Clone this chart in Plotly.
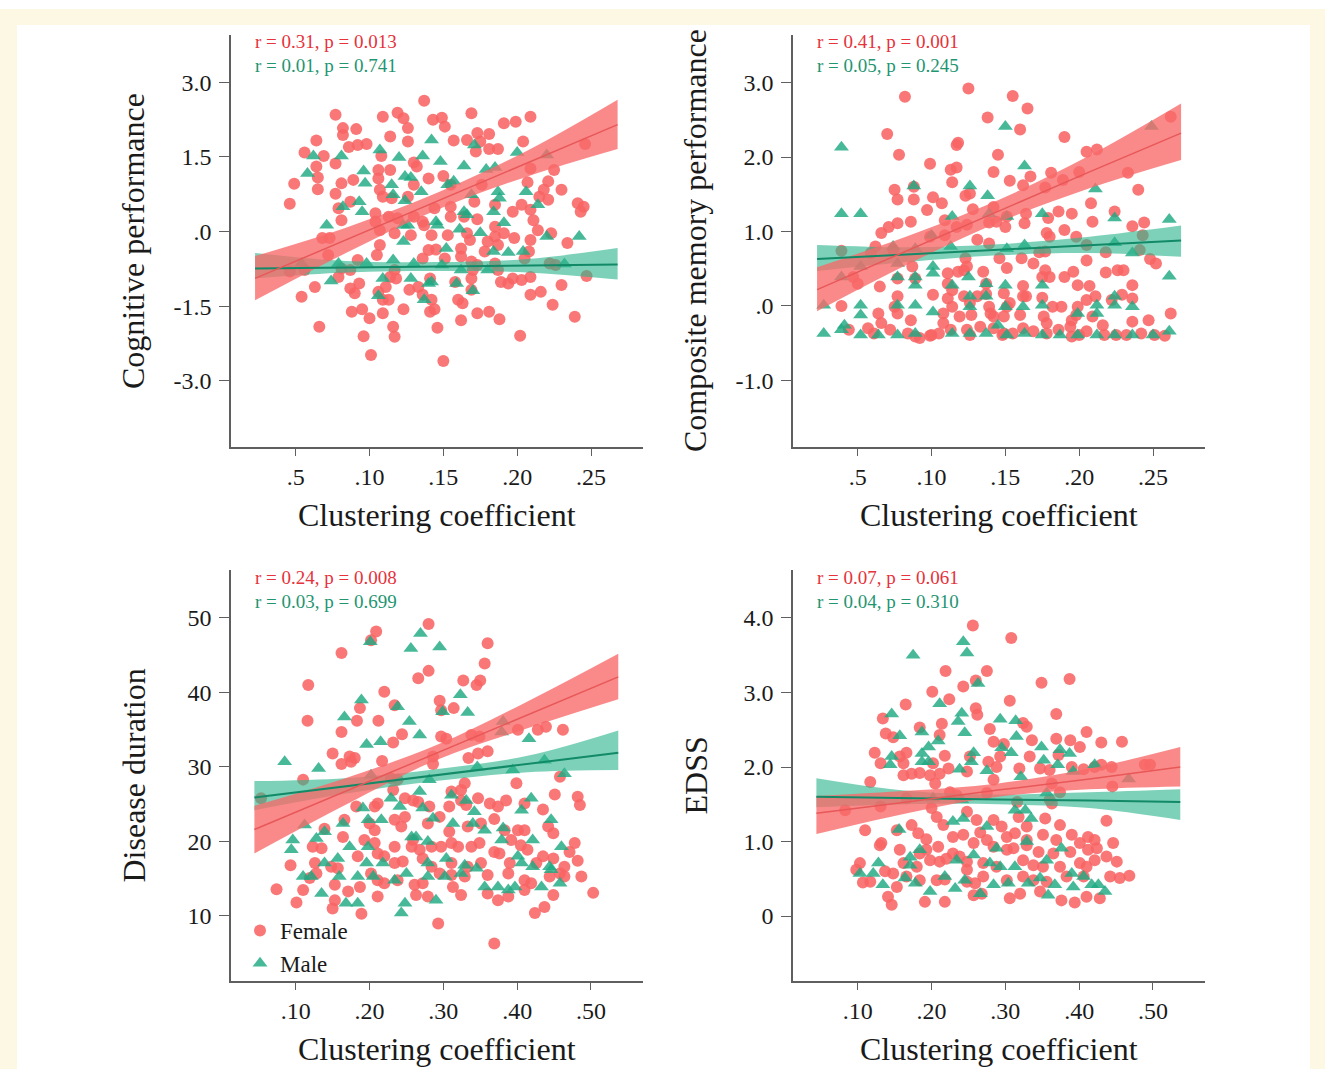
import plotly.graph_objects as go
from plotly.subplots import make_subplots

# ---- panel 1: cognitive performance vs clustering coefficient ----
p1_female_x = [
    0.137, 0.077, 0.109, 0.119, 0.123, 0.143, 0.149, 0.151, 0.169, 0.209,
    0.199, 0.191, 0.173, 0.181, 0.126, 0.082, 0.091, 0.082, 0.064, 0.114,
    0.126, 0.157, 0.166, 0.175, 0.181, 0.187, 0.086, 0.092, 0.098, 0.056,
    0.069, 0.077, 0.108, 0.130, 0.132, 0.204, 0.172, 0.064, 0.065, 0.049,
    0.065, 0.081, 0.089, 0.106, 0.114, 0.106, 0.140, 0.150, 0.130, 0.209,
    0.225, 0.221, 0.207, 0.246, 0.046, 0.077, 0.087, 0.107, 0.109, 0.115,
    0.126, 0.155, 0.176, 0.218, 0.230, 0.215, 0.221, 0.171, 0.185, 0.197,
    0.203, 0.209, 0.241, 0.245, 0.243, 0.079, 0.081, 0.104, 0.104, 0.113,
    0.119, 0.130, 0.136, 0.137, 0.144, 0.155, 0.155, 0.164, 0.173, 0.185,
    0.191, 0.198, 0.211, 0.214, 0.223, 0.209, 0.068, 0.073, 0.107, 0.117,
    0.128, 0.142, 0.153, 0.166, 0.168, 0.180, 0.185, 0.187, 0.234, 0.107,
    0.140, 0.145, 0.162, 0.178, 0.208, 0.205, 0.072, 0.092, 0.105, 0.136,
    0.151, 0.162, 0.169, 0.173, 0.185, 0.187, 0.222, 0.226, 0.046, 0.056,
    0.081, 0.087, 0.079, 0.117, 0.114, 0.118, 0.141, 0.170, 0.169, 0.189,
    0.194, 0.197, 0.203, 0.209, 0.247, 0.063, 0.054, 0.093, 0.087, 0.090,
    0.111, 0.106, 0.127, 0.133, 0.158, 0.169, 0.136, 0.160, 0.163, 0.142,
    0.109, 0.113, 0.209, 0.216, 0.230, 0.224, 0.088, 0.095, 0.100, 0.109,
    0.123, 0.141, 0.144, 0.162, 0.173, 0.181, 0.188, 0.239, 0.066, 0.096,
    0.116, 0.117, 0.146, 0.202, 0.101, 0.150,
]
p1_female_y = [
    2.63, 2.35, 2.31, 2.39, 2.28, 2.25, 2.29, 2.11, 2.38, 2.31,
    2.21, 2.18, 1.98, 1.96, 2.08, 2.08, 2.06, 1.94, 1.83, 1.91,
    1.81, 1.83, 1.84, 1.81, 1.66, 1.66, 1.70, 1.74, 1.76, 1.59,
    1.52, 1.37, 1.52, 1.39, 1.31, 1.81, 1.61, 1.31, 1.09, 0.96,
    0.85, 0.97, 1.04, 1.24, 1.24, 1.07, 1.07, 1.12, 0.94, 1.27,
    1.24, 1.01, 0.99, 1.76, 0.56, 0.76, 0.60, 0.84, 0.70, 0.67,
    0.70, 0.94, 0.94, 0.84, 0.84, 0.70, 0.64, 0.60, 0.54, 0.40,
    0.54, 0.44, 0.57, 0.50, 0.40, 0.47, 0.23, 0.37, 0.20, 0.30,
    0.27, 0.30, 0.20, 0.13, 0.47, 0.50, 0.30, 0.30, 0.25, 0.10,
    -0.03, -0.13, 0.23, 0.03, -0.03, -0.17, -0.13, -0.13, 0.03, -0.03,
    -0.07, -0.07, -0.07, -0.03, -0.17, -0.20, -0.10, -0.27, -0.23, -0.27,
    -0.37, -0.36, -0.34, -0.40, -0.40, -0.54, -0.47, -0.57, -0.47, -0.54,
    -0.54, -0.50, -0.60, -0.67, -0.64, -0.77, -0.64, -0.67, -0.80, -0.77,
    -0.74, -0.77, -0.91, -0.77, -0.91, -0.94, -0.94, -0.77, -0.94, -1.01,
    -1.04, -0.94, -0.97, -0.91, -0.89, -1.11, -1.31, -1.04, -1.14, -1.24,
    -1.11, -1.21, -1.17, -1.11, -1.01, -1.17, -1.27, -1.37, -1.44, -1.37,
    -1.37, -1.37, -1.27, -1.21, -1.07, -1.47, -1.61, -1.56, -1.74, -1.64,
    -1.56, -1.61, -1.56, -1.78, -1.64, -1.61, -1.76, -1.71, -1.91, -2.10,
    -1.91, -2.11, -1.93, -2.09, -2.48, -2.60,
]
p1_male_x = [
    0.062, 0.081, 0.058, 0.096, 0.097, 0.107, 0.120, 0.136, 0.142, 0.148,
    0.164, 0.171, 0.179, 0.185, 0.200, 0.220, 0.124, 0.128, 0.115, 0.116,
    0.124, 0.135, 0.153, 0.157, 0.169, 0.187, 0.188, 0.206, 0.214, 0.082,
    0.093, 0.095, 0.071, 0.123, 0.126, 0.123, 0.146, 0.145, 0.161, 0.164,
    0.166, 0.175, 0.184, 0.191, 0.220, 0.242, 0.152, 0.184, 0.194, 0.204,
    0.079, 0.098, 0.116, 0.130, 0.149, 0.162, 0.180, 0.074, 0.109, 0.128,
    0.140, 0.142, 0.159, 0.170, 0.106, 0.137, 0.232, 0.054,
]
p1_male_y = [
    1.52, 1.52, 1.17, 1.22, 0.97, 1.64, 1.49, 1.52, 1.84, 1.41,
    1.32, 1.74, 1.25, 1.29, 1.59, 1.54, 1.11, 1.09, 0.94, 0.74,
    0.62, 0.80, 0.94, 1.01, 0.74, 0.80, 0.67, 0.80, 0.54, 0.50,
    0.60, 0.40, 0.13, 0.13, 0.13, -0.20, 0.13, 0.20, 0.05, 0.40,
    0.34, -0.02, 0.40, 0.18, -0.10, -0.10, -0.34, -0.40, -0.42, -0.40,
    -0.64, -0.64, -0.57, -0.64, -0.67, -0.77, -0.77, -0.99, -0.94, -0.94,
    -1.04, -1.01, -1.04, -1.19, -1.29, -1.37, -0.65, -0.64,
]
p1_fit_x = [0.0225, 0.084, 0.145, 0.207, 0.268]
p1_female_fit = [-0.94, -0.17, 0.60, 1.37, 2.15]
p1_female_lo = [-1.38, -0.43, 0.43, 1.11, 1.66]
p1_female_hi = [-0.49, 0.08, 0.77, 1.63, 2.65]
p1_male_fit = [-0.74, -0.72, -0.70, -0.68, -0.66]
p1_male_lo = [-0.94, -0.82, -0.79, -0.82, -0.96]
p1_male_hi = [-0.43, -0.59, -0.61, -0.55, -0.33]

# ---- panel 2: composite memory performance ----
p2_female_x = [
    0.125, 0.082, 0.155, 0.165, 0.138, 0.160, 0.070, 0.190, 0.117, 0.118,
    0.078, 0.145, 0.099, 0.113, 0.117, 0.142, 0.205, 0.212, 0.233, 0.262,
    0.114, 0.153, 0.162, 0.167, 0.181, 0.189, 0.177, 0.200, 0.075, 0.077,
    0.088, 0.088, 0.101, 0.107, 0.097, 0.123, 0.126, 0.128, 0.142, 0.151,
    0.164, 0.163, 0.179, 0.186, 0.195, 0.208, 0.209, 0.224, 0.240, 0.236,
    0.244, 0.243, 0.086, 0.077, 0.071, 0.066, 0.109, 0.117, 0.109, 0.124,
    0.139, 0.144, 0.150, 0.178, 0.180, 0.190, 0.198, 0.205, 0.218, 0.241,
    0.248, 0.252, 0.062, 0.039, 0.059, 0.074, 0.099, 0.131, 0.139, 0.123,
    0.146, 0.151, 0.161, 0.169, 0.173, 0.177, 0.205, 0.087, 0.111, 0.118,
    0.135, 0.124, 0.122, 0.177, 0.180, 0.190, 0.196, 0.218, 0.226, 0.230,
    0.050, 0.047, 0.065, 0.077, 0.089, 0.111, 0.114, 0.137, 0.149, 0.162,
    0.164, 0.175, 0.199, 0.207, 0.236, 0.077, 0.101, 0.111, 0.122, 0.131,
    0.137, 0.153, 0.162, 0.175, 0.182, 0.188, 0.199, 0.205, 0.211, 0.222,
    0.229, 0.236, 0.039, 0.075, 0.114, 0.126, 0.139, 0.140, 0.151, 0.064,
    0.077, 0.086, 0.108, 0.108, 0.119, 0.127, 0.142, 0.149, 0.160, 0.176,
    0.178, 0.195, 0.198, 0.209, 0.216, 0.236, 0.247, 0.262, 0.044, 0.057,
    0.066, 0.072, 0.084, 0.089, 0.092, 0.100, 0.105, 0.113, 0.124, 0.133,
    0.142, 0.149, 0.155, 0.162, 0.169, 0.178, 0.186, 0.194, 0.200, 0.205,
    0.217, 0.225, 0.232, 0.242, 0.251, 0.258, 0.061, 0.126, 0.099, 0.148,
    0.195,
]
p2_female_y = [
    2.92, 2.81, 2.82, 2.65, 2.53, 2.37, 2.31, 2.27, 2.16, 2.19,
    2.03, 2.03, 1.91, 1.83, 1.86, 1.80, 2.07, 2.10, 1.79, 2.54,
    1.66, 1.68, 1.62, 1.74, 1.79, 1.69, 1.59, 1.80, 1.56, 1.43,
    1.60, 1.43, 1.46, 1.38, 1.29, 1.48, 1.51, 1.30, 1.33, 1.20,
    1.24, 1.11, 1.18, 1.27, 1.24, 1.38, 1.13, 1.27, 1.56, 1.07,
    1.12, 0.95, 1.13, 1.11, 1.06, 0.98, 1.15, 1.06, 0.95, 1.09,
    1.12, 1.13, 1.06, 0.98, 0.93, 1.02, 0.93, 0.82, 0.72, 0.75,
    0.63, 0.57, 0.80, 0.74, 0.71, 0.75, 0.93, 0.89, 0.84, 0.64,
    0.64, 0.51, 0.64, 0.57, 0.72, 0.73, 0.61, 0.53, 0.44, 0.46,
    0.46, 0.53, 0.48, 0.48, 0.39, 0.39, 0.46, 0.45, 0.48, 0.48,
    0.30, 0.39, 0.26, 0.37, 0.37, 0.30, 0.21, 0.30, 0.17, 0.27,
    0.13, 0.39, 0.28, 0.27, 0.28, 0.13, 0.15, 0.10, 0.13, 0.13,
    0.16, 0.04, 0.13, 0.11, -0.01, -0.01, -0.01, 0.08, 0.13, 0.08,
    0.15, 0.10, 0.00, -0.01, -0.01, 0.04, -0.01, -0.10, -0.01, -0.10,
    -0.10, -0.19, -0.10, -0.23, -0.14, -0.12, -0.14, -0.14, -0.12, -0.14,
    -0.23, -0.19, -0.12, -0.14, -0.26, -0.21, -0.19, -0.10, -0.32, -0.30,
    -0.23, -0.32, -0.37, -0.41, -0.43, -0.39, -0.37, -0.32, -0.32, -0.28,
    -0.30, -0.37, -0.37, -0.30, -0.34, -0.37, -0.32, -0.28, -0.39, -0.34,
    -0.39, -0.39, -0.39, -0.37, -0.39, -0.40, -0.37, -0.39, -0.40, -0.39,
    -0.41,
]
p2_male_x = [
    0.039, 0.150, 0.249, 0.163, 0.088, 0.126, 0.138, 0.039, 0.052, 0.114,
    0.139, 0.151, 0.175, 0.211, 0.224, 0.261, 0.100, 0.089, 0.074, 0.113,
    0.151, 0.163, 0.224, 0.236, 0.052, 0.077, 0.101, 0.039, 0.077, 0.089,
    0.101, 0.125, 0.089, 0.114, 0.137, 0.150, 0.175, 0.261, 0.052, 0.027,
    0.077, 0.089, 0.101, 0.126, 0.126, 0.137, 0.150, 0.162, 0.175, 0.212,
    0.224, 0.236, 0.224, 0.052, 0.199, 0.212, 0.027, 0.039, 0.041, 0.052,
    0.064, 0.077, 0.089, 0.114, 0.126, 0.137, 0.145, 0.151, 0.163, 0.175,
    0.187, 0.199, 0.212, 0.224, 0.236, 0.250, 0.261,
]
p2_male_y = [
    2.13, 2.41, 2.41, 1.88, 1.61, 1.61, 1.48, 1.24, 1.24, 1.20,
    1.24, 1.20, 1.24, 1.57, 1.18, 1.16, 0.95, 0.77, 0.80, 0.80,
    0.77, 0.82, 0.85, 0.71, 0.53, 0.57, 0.53, 0.39, 0.39, 0.39,
    0.44, 0.39, 0.28, 0.28, 0.30, 0.28, 0.28, 0.40, 0.01, 0.01,
    0.01, 0.01, -0.08, 0.13, -0.01, 0.13, -0.01, -0.01, 0.01, 0.01,
    0.01, -0.01, 0.13, -0.12, -0.10, -0.10, -0.37, -0.32, -0.26, -0.39,
    -0.39, -0.39, -0.37, -0.37, -0.37, -0.37, -0.26, -0.39, -0.37, -0.39,
    -0.39, -0.39, -0.39, -0.39, -0.39, -0.39, -0.34,
]
p2_fit_x = [0.0225, 0.084, 0.145, 0.207, 0.269]
p2_female_fit = [0.22, 0.75, 1.27, 1.80, 2.32]
p2_female_lo = [-0.07, 0.56, 1.12, 1.58, 1.96]
p2_female_hi = [0.52, 0.94, 1.42, 2.02, 2.72]
p2_male_fit = [0.63, 0.69, 0.755, 0.82, 0.88]
p2_male_lo = [0.47, 0.59, 0.68, 0.71, 0.66]
p2_male_hi = [0.82, 0.79, 0.83, 0.93, 1.08]

# ---- panel 3: disease duration ----
p3_female_x = [
    0.280, 0.209, 0.202, 0.162, 0.360, 0.356, 0.280, 0.266, 0.117, 0.327,
    0.345, 0.350, 0.220, 0.295, 0.234, 0.314, 0.297, 0.187, 0.116, 0.183,
    0.212, 0.162, 0.244, 0.232, 0.297, 0.304, 0.338, 0.349, 0.401, 0.428,
    0.439, 0.462, 0.150, 0.162, 0.173, 0.180, 0.175, 0.217, 0.286, 0.286,
    0.334, 0.347, 0.360, 0.110, 0.053, 0.229, 0.238, 0.232, 0.329, 0.311,
    0.324, 0.399, 0.458, 0.451, 0.482, 0.485, 0.182, 0.207, 0.211, 0.248,
    0.259, 0.266, 0.281, 0.295, 0.308, 0.324, 0.331, 0.347, 0.363, 0.374,
    0.385, 0.410, 0.435, 0.166, 0.139, 0.200, 0.207, 0.234, 0.243, 0.279,
    0.308, 0.333, 0.351, 0.369, 0.383, 0.401, 0.410, 0.442, 0.449, 0.123,
    0.135, 0.164, 0.193, 0.207, 0.234, 0.257, 0.268, 0.284, 0.297, 0.311,
    0.320, 0.338, 0.349, 0.369, 0.376, 0.392, 0.405, 0.414, 0.435, 0.449,
    0.478, 0.471, 0.093, 0.126, 0.148, 0.157, 0.184, 0.211, 0.220, 0.234,
    0.245, 0.272, 0.284, 0.311, 0.333, 0.351, 0.390, 0.426, 0.482, 0.464,
    0.458, 0.487, 0.074, 0.110, 0.153, 0.171, 0.187, 0.211, 0.220, 0.238,
    0.261, 0.272, 0.295, 0.311, 0.329, 0.360, 0.388, 0.410, 0.419, 0.444,
    0.464, 0.211, 0.263, 0.279, 0.313, 0.324, 0.360, 0.374, 0.388, 0.410,
    0.449, 0.101, 0.153, 0.150, 0.189, 0.424, 0.437, 0.503, 0.293, 0.369,
    0.119, 0.128, 0.202, 0.248, 0.259,
]
p3_female_y = [
    49.2, 48.2, 47.0, 45.3, 46.6, 43.9, 42.9, 41.9, 41.0, 41.6,
    41.0, 41.6, 40.1, 38.9, 38.3, 37.9, 37.6, 37.9, 36.2, 36.2,
    36.2, 34.7, 34.4, 33.3, 34.1, 33.8, 34.3, 34.1, 35.0, 35.0,
    35.4, 35.0, 31.8, 30.4, 31.4, 31.2, 30.7, 30.8, 31.4, 30.4,
    31.2, 31.8, 32.1, 28.3, 25.8, 28.5, 28.3, 26.9, 27.8, 26.7,
    26.9, 27.8, 28.7, 26.3, 26.0, 24.9, 24.7, 24.7, 25.1, 25.8,
    25.5, 25.3, 24.7, 23.3, 24.7, 25.5, 24.9, 25.8, 25.1, 24.7,
    25.5, 25.1, 24.3, 22.9, 21.7, 22.4, 21.5, 22.9, 22.0, 22.4,
    21.3, 22.0, 22.4, 23.0, 21.5, 21.5, 21.5, 22.0, 21.1, 19.3,
    19.1, 20.6, 20.2, 19.8, 19.3, 19.3, 18.9, 19.3, 19.3, 19.8,
    19.3, 19.3, 19.8, 18.6, 18.4, 20.2, 19.5, 18.9, 18.0, 17.7,
    19.8, 18.6, 16.8, 17.1, 16.6, 16.4, 18.0, 18.4, 18.0, 17.1,
    17.3, 17.7, 16.6, 17.1, 16.6, 17.1, 17.1, 17.1, 17.4, 16.6,
    15.7, 15.3, 13.6, 13.5, 14.2, 13.3, 13.9, 14.8, 14.4, 14.8,
    14.2, 14.4, 15.7, 15.5, 15.3, 15.5, 15.7, 14.8, 14.4, 15.3,
    15.3, 12.6, 12.8, 12.6, 13.9, 12.8, 13.0, 12.1, 12.6, 13.5,
    12.8, 11.8, 12.1, 11.0, 10.3, 10.4, 11.2, 13.1, 9.0, 6.3,
    15.1, 15.7, 15.7, 23.3, 20.2,
]
p3_male_x = [
    0.269, 0.201, 0.256, 0.295, 0.189, 0.238, 0.323, 0.299, 0.333, 0.166,
    0.254, 0.268, 0.381, 0.379, 0.416, 0.196, 0.215, 0.085, 0.131, 0.202,
    0.281, 0.346, 0.394, 0.437, 0.464, 0.268, 0.229, 0.241, 0.191, 0.272,
    0.286, 0.311, 0.331, 0.342, 0.406, 0.419, 0.446, 0.112, 0.164, 0.198,
    0.216, 0.313, 0.340, 0.356, 0.381, 0.096, 0.094, 0.139, 0.128, 0.173,
    0.198, 0.257, 0.263, 0.279, 0.304, 0.329, 0.345, 0.379, 0.401, 0.421,
    0.460, 0.121, 0.110, 0.139, 0.135, 0.157, 0.159, 0.168, 0.184, 0.184,
    0.196, 0.205, 0.218, 0.234, 0.250, 0.248, 0.243, 0.279, 0.279, 0.290,
    0.302, 0.356, 0.374, 0.388, 0.397, 0.406, 0.421, 0.444, 0.446, 0.433,
    0.458, 0.324,
]
p3_male_y = [
    47.9, 46.8, 45.9, 46.1, 39.0, 38.1, 39.7, 37.4, 37.3, 36.7,
    36.1, 34.3, 36.1, 34.7, 33.8, 33.0, 33.4, 30.7, 29.8, 28.9,
    28.3, 30.0, 29.6, 30.9, 29.1, 26.7, 25.8, 24.7, 24.5, 24.5,
    23.1, 26.2, 25.5, 24.0, 24.2, 25.8, 22.9, 22.2, 22.4, 22.9,
    22.9, 22.4, 22.4, 21.5, 21.8, 20.2, 18.9, 21.3, 20.4, 19.3,
    19.3, 20.6, 20.6, 20.0, 17.7, 16.8, 16.4, 20.2, 18.0, 20.2,
    19.3, 15.3, 15.3, 17.1, 13.0, 17.7, 15.3, 11.7, 15.3, 11.7,
    17.1, 15.3, 17.1, 14.8, 15.7, 11.7, 10.4, 17.1, 15.3, 12.1,
    15.3, 13.9, 13.9, 13.5, 13.9, 17.1, 16.6, 16.6, 16.2, 13.9,
    14.4, 15.7,
]
p3_fit_x = [0.044, 0.167, 0.290, 0.414, 0.537]
p3_female_fit = [21.6, 26.7, 31.9, 37.0, 42.1]
p3_female_lo = [18.4, 24.9, 30.9, 35.2, 39.1]
p3_female_hi = [24.8, 28.5, 32.9, 38.8, 45.2]
p3_male_fit = [25.9, 27.4, 28.9, 30.4, 31.9]
p3_male_lo = [24.2, 26.4, 28.1, 29.3, 29.6]
p3_male_hi = [28.1, 28.5, 29.7, 31.5, 34.9]

# ---- panel 4: EDSS ----
p4_female_x = [
    0.256, 0.308, 0.219, 0.275, 0.349, 0.387, 0.243, 0.260, 0.201, 0.224,
    0.165, 0.306, 0.260, 0.262, 0.369, 0.134, 0.184, 0.214, 0.138, 0.148,
    0.211, 0.279, 0.284, 0.298, 0.324, 0.329, 0.336, 0.369, 0.388, 0.401,
    0.410, 0.430, 0.458, 0.123, 0.131, 0.157, 0.166, 0.162, 0.218, 0.202,
    0.223, 0.252, 0.248, 0.277, 0.293, 0.288, 0.319, 0.333, 0.347, 0.360,
    0.372, 0.390, 0.406, 0.421, 0.430, 0.444, 0.489, 0.496, 0.117, 0.162,
    0.173, 0.184, 0.198, 0.205, 0.211, 0.284, 0.363, 0.374, 0.445, 0.083,
    0.131, 0.166, 0.200, 0.225, 0.234, 0.275, 0.316, 0.360, 0.363, 0.207,
    0.216, 0.248, 0.261, 0.284, 0.295, 0.318, 0.329, 0.354, 0.374, 0.437,
    0.110, 0.153, 0.173, 0.182, 0.193, 0.229, 0.243, 0.266, 0.275, 0.302,
    0.313, 0.329, 0.351, 0.369, 0.390, 0.401, 0.412, 0.421, 0.130, 0.157,
    0.184, 0.193, 0.209, 0.229, 0.238, 0.257, 0.284, 0.302, 0.311, 0.329,
    0.345, 0.365, 0.388, 0.412, 0.424, 0.446, 0.437, 0.103, 0.098, 0.137,
    0.148, 0.162, 0.180, 0.198, 0.211, 0.220, 0.248, 0.270, 0.288, 0.324,
    0.338, 0.351, 0.374, 0.401, 0.410, 0.421, 0.451, 0.107, 0.117, 0.153,
    0.166, 0.184, 0.207, 0.218, 0.248, 0.259, 0.270, 0.302, 0.324, 0.338,
    0.356, 0.383, 0.406, 0.442, 0.455, 0.468, 0.141, 0.146, 0.191, 0.218,
    0.257, 0.268, 0.306, 0.320, 0.347, 0.376, 0.394, 0.410, 0.428, 0.132,
    0.248,
]
p4_female_y = [
    3.90, 3.73, 3.29, 3.29, 3.13, 3.18, 3.08, 3.16, 3.01, 2.91,
    2.84, 2.89, 2.79, 2.70, 2.71, 2.65, 2.53, 2.58, 2.45, 2.40,
    2.43, 2.51, 2.34, 2.31, 2.59, 2.54, 2.36, 2.38, 2.36, 2.27,
    2.47, 2.33, 2.34, 2.19, 2.05, 2.14, 2.19, 2.05, 2.15, 2.05,
    1.98, 2.14, 1.94, 2.07, 2.14, 2.00, 1.98, 2.14, 1.98, 1.96,
    2.16, 2.00, 1.97, 2.00, 2.03, 2.00, 2.03, 2.03, 1.80, 1.89,
    1.91, 1.92, 1.89, 1.78, 1.91, 1.83, 1.78, 1.66, 1.74, 1.42,
    1.47, 1.58, 1.45, 1.66, 1.62, 1.65, 1.53, 1.56, 1.51, 1.33,
    1.22, 1.40, 1.29, 1.29, 1.20, 1.33, 1.20, 1.31, 1.22, 1.28,
    1.15, 1.15, 1.22, 1.11, 1.03, 1.06, 1.09, 1.12, 1.02, 1.06,
    1.11, 1.02, 1.09, 1.02, 1.09, 0.98, 1.06, 1.02, 0.95, 0.89,
    0.84, 0.89, 0.93, 0.84, 0.80, 0.98, 0.93, 0.89, 0.91, 0.95,
    0.86, 0.84, 0.86, 0.89, 0.91, 0.98, 0.80, 0.71, 0.62, 0.60,
    0.57, 0.71, 0.66, 0.75, 0.73, 0.77, 0.73, 0.71, 0.66, 0.75,
    0.68, 0.66, 0.66, 0.71, 0.66, 0.75, 0.73, 0.45, 0.46, 0.39,
    0.53, 0.48, 0.48, 0.49, 0.46, 0.44, 0.53, 0.48, 0.53, 0.48,
    0.46, 0.53, 0.53, 0.53, 0.51, 0.54, 0.26, 0.15, 0.19, 0.19,
    0.28, 0.30, 0.24, 0.30, 0.33, 0.21, 0.18, 0.26, 0.24, 0.98,
    0.62,
]
p4_male_x = [
    0.175, 0.243, 0.248, 0.263, 0.211, 0.146, 0.241, 0.236, 0.293, 0.314,
    0.187, 0.245, 0.157, 0.209, 0.196, 0.187, 0.146, 0.144, 0.187, 0.196,
    0.238, 0.254, 0.257, 0.275, 0.295, 0.308, 0.315, 0.321, 0.349, 0.352,
    0.371, 0.374, 0.387, 0.392, 0.467, 0.421, 0.202, 0.241, 0.229, 0.243,
    0.275, 0.313, 0.327, 0.335, 0.156, 0.184, 0.171, 0.171, 0.128, 0.103,
    0.121, 0.134, 0.164, 0.178, 0.198, 0.218, 0.232, 0.234, 0.245, 0.257,
    0.266, 0.279, 0.284, 0.288, 0.293, 0.304, 0.313, 0.331, 0.347, 0.356,
    0.367, 0.358, 0.376, 0.390, 0.392, 0.406, 0.417, 0.426, 0.435, 0.329,
    0.356,
]
p4_male_y = [
    3.50, 3.68, 3.53, 3.12, 2.85, 2.71, 2.72, 2.61, 2.64, 2.62,
    2.47, 2.46, 2.42, 2.35, 2.27, 2.18, 2.14, 2.03, 2.07, 2.07,
    1.97, 2.07, 2.19, 1.95, 2.26, 2.19, 2.41, 1.87, 2.27, 2.09,
    2.03, 2.23, 2.18, 1.94, 1.84, 2.03, 1.58, 1.56, 1.27, 1.31,
    1.20, 1.42, 1.42, 1.31, 1.16, 0.89, 0.79, 0.68, 0.71, 0.57,
    0.57, 0.42, 0.51, 0.44, 0.33, 0.53, 0.37, 0.75, 0.48, 0.82,
    0.30, 0.71, 0.42, 0.91, 0.66, 0.44, 0.66, 0.44, 0.51, 0.75,
    0.42, 0.28, 0.91, 0.57, 0.39, 0.53, 0.42, 0.42, 0.33, 1.00,
    1.65,
]
p4_fit_x = [0.044, 0.167, 0.290, 0.414, 0.537]
p4_female_fit = [1.38, 1.53, 1.69, 1.84, 2.00]
p4_female_lo = [1.10, 1.38, 1.60, 1.70, 1.74]
p4_female_hi = [1.61, 1.68, 1.78, 1.98, 2.27]
p4_male_fit = [1.60, 1.58, 1.565, 1.55, 1.53]
p4_male_lo = [1.46, 1.50, 1.50, 1.45, 1.29]
p4_male_hi = [1.85, 1.68, 1.63, 1.66, 1.70]

# ---- labels ----
panel_ylabels = ["Cognitive performance", "Composite memory performance",
                 "Disease duration", "EDSS"]
panel_stats_female = ["r = 0.31, p = 0.013", "r = 0.41, p = 0.001",
                      "r = 0.24, p = 0.008", "r = 0.07, p = 0.061"]
panel_stats_male = ["r = 0.01, p = 0.741", "r = 0.05, p = 0.245",
                    "r = 0.03, p = 0.699", "r = 0.04, p = 0.310"]
top_xtickvals = [0.05, 0.10, 0.15, 0.20, 0.25]
top_xticktext = [".5", ".10", ".15", ".20", ".25"]
bottom_xtickvals = [0.1, 0.2, 0.3, 0.4, 0.5]
bottom_xticktext = [".10", ".20", ".30", ".40", ".50"]
p1_ytickvals = [3.0, 1.5, 0.0, -1.5, -3.0]
p1_yticktext = ["3.0", "1.5", ".0", "-1.5", "-3.0"]
p2_ytickvals = [3, 2, 1, 0, -1]
p2_yticktext = ["3.0", "2.0", "1.0", ".0", "-1.0"]
p3_ytickvals = [50, 40, 30, 20, 10]
p3_yticktext = ["50", "40", "30", "20", "10"]
p4_ytickvals = [4, 3, 2, 1, 0]
p4_yticktext = ["4.0", "3.0", "2.0", "1.0", "0"]

FONT = "Liberation Serif, Times New Roman, serif"
W, H = 1325, 1069

FEMALE_PT = "rgb(248,100,100)"
MALE_PT = "rgb(30,170,130)"
FEMALE_BAND = "rgba(248,105,105,0.78)"
MALE_BAND = "rgba(45,180,140,0.62)"
FEMALE_LINE = "rgb(232,88,88)"
MALE_LINE = "rgb(18,138,104)"
RED_TXT = "rgb(229,50,59)"
GREEN_TXT = "rgb(31,149,114)"
INK = "#1a1a1a"


def add_panel(fig, row, col, fx, fy, mx, my, fit_x,
              f_fit, f_lo, f_hi, m_fit, m_lo, m_hi, legend=False):
    """Scatter for both sexes plus fitted lines with confidence bands."""

    fig.add_trace(go.Scatter(
        x=fx, y=fy, mode="markers", name="Female", showlegend=legend,
        marker=dict(symbol="circle", size=12, color=FEMALE_PT, opacity=0.88),
    ), row=row, col=col)
    fig.add_trace(go.Scatter(
        x=mx, y=my, mode="markers", name="Male", showlegend=legend,
        marker=dict(symbol="triangle-up", size=13, color=MALE_PT, opacity=0.82),
    ), row=row, col=col)

    for lo, hi, band in [(m_lo, m_hi, MALE_BAND), (f_lo, f_hi, FEMALE_BAND)]:
        fig.add_trace(go.Scatter(
            x=fit_x, y=lo, mode="lines", line=dict(width=0, shape="spline"),
            showlegend=False, hoverinfo="skip",
        ), row=row, col=col)
        fig.add_trace(go.Scatter(
            x=fit_x, y=hi, mode="lines", line=dict(width=0, shape="spline"),
            fill="tonexty", fillcolor=band, showlegend=False, hoverinfo="skip",
        ), row=row, col=col)

    fig.add_trace(go.Scatter(
        x=fit_x, y=m_fit, mode="lines", line=dict(color=MALE_LINE, width=2),
        showlegend=False, hoverinfo="skip",
    ), row=row, col=col)
    fig.add_trace(go.Scatter(
        x=fit_x, y=f_fit, mode="lines", line=dict(color=FEMALE_LINE, width=1.5),
        showlegend=False, hoverinfo="skip",
    ), row=row, col=col)


fig = make_subplots(rows=2, cols=2)

add_panel(fig, 1, 1, p1_female_x, p1_female_y, p1_male_x, p1_male_y, p1_fit_x,
          p1_female_fit, p1_female_lo, p1_female_hi,
          p1_male_fit, p1_male_lo, p1_male_hi)
add_panel(fig, 1, 2, p2_female_x, p2_female_y, p2_male_x, p2_male_y, p2_fit_x,
          p2_female_fit, p2_female_lo, p2_female_hi,
          p2_male_fit, p2_male_lo, p2_male_hi)
add_panel(fig, 2, 1, p3_female_x, p3_female_y, p3_male_x, p3_male_y, p3_fit_x,
          p3_female_fit, p3_female_lo, p3_female_hi,
          p3_male_fit, p3_male_lo, p3_male_hi, legend=True)
add_panel(fig, 2, 2, p4_female_x, p4_female_y, p4_male_x, p4_male_y, p4_fit_x,
          p4_female_fit, p4_female_lo, p4_female_hi,
          p4_male_fit, p4_male_lo, p4_male_hi)

# panel boxes in pixels: (left, right, top, bottom)
boxes = [(231, 643, 35, 447), (793, 1205, 35, 447),
         (231, 643, 570, 981), (793, 1205, 570, 981)]
x_ranges = [[0.0062, 0.2852], [0.0062, 0.2852], [0.0123, 0.5705], [0.0123, 0.5705]]
y_ranges = [[-4.327, 3.951], [-1.893, 3.638], [1.27, 56.44], [-0.872, 4.644]]
x_ticks = [(top_xtickvals, top_xticktext), (top_xtickvals, top_xticktext),
           (bottom_xtickvals, bottom_xticktext), (bottom_xtickvals, bottom_xticktext)]
y_ticks = [(p1_ytickvals, p1_yticktext), (p2_ytickvals, p2_yticktext),
           (p3_ytickvals, p3_yticktext), (p4_ytickvals, p4_yticktext)]

axis_style = dict(
    showline=True, linecolor="#5f5f5f", linewidth=1.6, showgrid=False,
    zeroline=False, ticks="outside", tickcolor="#5f5f5f", tickwidth=1.4,
    tickfont=dict(family=FONT, size=24, color=INK),
)

annotations = []
for i, (l, r, t, b) in enumerate(boxes):
    n = "" if i == 0 else str(i + 1)
    fig.layout["xaxis" + n].update(
        domain=[l / W, r / W], range=x_ranges[i], tickmode="array",
        tickvals=x_ticks[i][0], ticktext=x_ticks[i][1], ticklen=7,
        ticklabelstandoff=0, **axis_style)
    fig.layout["yaxis" + n].update(
        domain=[1 - b / H, 1 - t / H], range=y_ranges[i], tickmode="array",
        tickvals=y_ticks[i][0], ticktext=y_ticks[i][1], ticklen=10,
        ticklabelstandoff=3, **axis_style)

    # axis titles
    annotations.append(dict(
        x=(l + r) / 2 / W, y=1 - (b + 68) / H, xref="paper", yref="paper",
        xanchor="center", yanchor="middle",
        text="Clustering coefficient", showarrow=False,
        font=dict(family=FONT, size=32, color=INK),
    ))
    annotations.append(dict(
        x=(l - 98) / W, y=1 - (t + b) / 2 / H, xref="paper", yref="paper",
        xanchor="center", yanchor="middle",
        text=panel_ylabels[i], textangle=-90, showarrow=False,
        font=dict(family=FONT, size=32, color=INK),
    ))
    # correlation labels
    annotations.append(dict(
        x=(l + 22) / W, y=1 - (t + 7) / H, xref="paper", yref="paper",
        xanchor="left", yanchor="middle", text=panel_stats_female[i],
        showarrow=False, font=dict(family=FONT, size=19, color=RED_TXT),
    ))
    annotations.append(dict(
        x=(l + 22) / W, y=1 - (t + 31) / H, xref="paper", yref="paper",
        xanchor="left", yanchor="middle", text=panel_stats_male[i],
        showarrow=False, font=dict(family=FONT, size=19, color=GREEN_TXT),
    ))

fig.update_layout(
    width=W, height=H, autosize=False,
    margin=dict(l=0, r=0, t=0, b=0),
    paper_bgcolor="rgb(253,248,228)",
    plot_bgcolor="white",
    font=dict(family=FONT, color=INK),
    annotations=annotations,
    legend=dict(
        x=240 / W, y=1 - 909 / H, xanchor="left", yanchor="top",
        traceorder="normal", bgcolor="rgba(0,0,0,0)",
        font=dict(family=FONT, size=23, color=INK),
        itemwidth=30, tracegroupgap=0,
    ),
    shapes=[
        dict(type="rect", xref="paper", yref="paper", layer="below",
             x0=17 / W, x1=1310 / W, y0=0, y1=1 - 25 / H,
             fillcolor="white", line=dict(width=0)),
        dict(type="rect", xref="paper", yref="paper", layer="below",
             x0=0, x1=1, y0=1 - 9 / H, y1=1,
             fillcolor="white", line=dict(width=0)),
    ],
)

# the page body has a default 8px margin; drop it so the figure fills the window
fig.write_html(
    "out.html",
    config={"displayModeBar": False},
    post_script="document.body.style.margin = '0px';",
)
